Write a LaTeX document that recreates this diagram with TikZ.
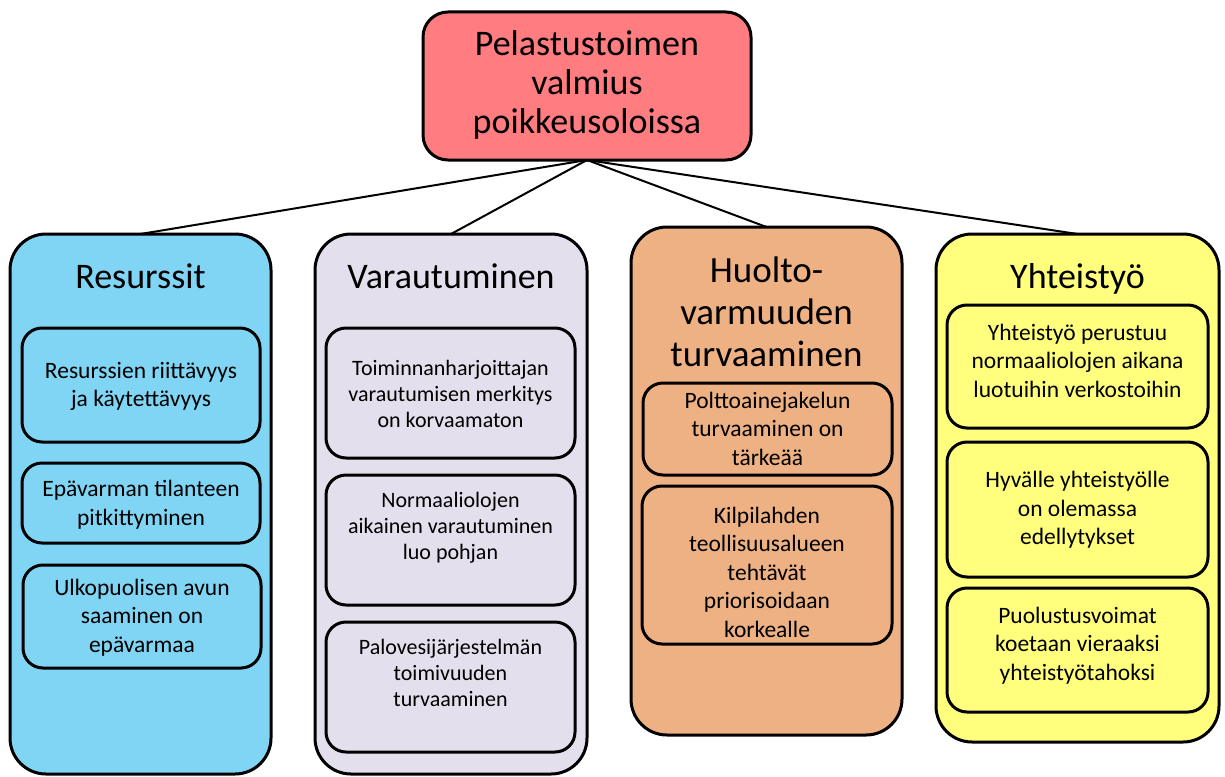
\documentclass[tikz,border=0pt]{standalone}
\usepackage{fontspec}
\setmainfont{Carlito}
\definecolor{cTop}{RGB}{255,124,128}
\definecolor{cRes}{RGB}{128,213,245}
\definecolor{cVar}{RGB}{228,223,236}
\definecolor{cHuo}{RGB}{237,177,131}
\definecolor{cYht}{RGB}{255,255,125}
\begin{document}
\begin{tikzpicture}[x=1pt,y=-1pt,
 topbox/.style={draw=black,line width=3pt,rounded corners=25pt,inner sep=0pt,outer sep=0pt},
 outerbox/.style={draw=black,line width=3pt,rounded corners=36pt,inner sep=0pt,outer sep=0pt},
 innerbox/.style={draw=black,line width=3pt,rounded corners=20pt,inner sep=0pt,outer sep=0pt},
 conn/.style={draw=black,line width=2pt},
 txt/.style={align=center,inner sep=0pt,outer sep=0pt,text=black},
 toptxt/.style={txt,font=\fontsize{36}{39}\selectfont},
 titletxt/.style={txt,font=\fontsize{36}{44}\selectfont},
 huotxt/.style={txt,font=\fontsize{37}{42}\selectfont},
 itemtxt/.style={txt,font=\fontsize{23.5}{28.5}\selectfont},
 vartxt/.style={txt,font=\fontsize{22}{26}\selectfont}
]
\fill[white] (0,0) rectangle (1225,776);
\useasboundingbox (0,0) rectangle (1225,776);

% top
\node[topbox,fill=cTop,minimum width=328pt,minimum height=148pt] (top) at (587,86) {};
\node[toptxt] (toplabel) at (587,86.2) {\strut Pelastustoimen\\\strut valmius\\\strut poikkeusoloissa};

% outer boxes
\node[outerbox,fill=cRes,minimum width=261pt,minimum height=540pt] (res) at (140.5,504) {};
\node[outerbox,fill=cVar,minimum width=272pt,minimum height=540pt] (var) at (451,504) {};
\node[outerbox,fill=cHuo,minimum width=271pt,minimum height=508pt] (huo) at (766.5,481) {};
\node[outerbox,fill=cYht,minimum width=283pt,minimum height=508pt] (yht) at (1077.5,488) {};

% titles
\node[titletxt] (restitle) at (140.5,279.2) {\strut Resurssit};
\node[titletxt] (vartitle) at (451,279.2) {\strut Varautuminen};
\node[huotxt] (huotitle) at (766.5,315.6) {\strut Huolto-\\\strut varmuuden\\\strut turvaaminen};
\node[titletxt] (yhttitle) at (1077.5,279.2) {\strut Yhteistyö};

% inner boxes
\node[innerbox,fill=cRes,minimum width=238pt,minimum height=114pt] (r1) at (141,385) {};
\node[innerbox,fill=cRes,minimum width=238pt,minimum height=80pt] (r2) at (141,503) {};
\node[innerbox,fill=cRes,minimum width=238pt,minimum height=103pt] (r3) at (142,616.5) {};

\node[innerbox,fill=cVar,minimum width=249pt,minimum height=130pt] (v1) at (450.5,393) {};
\node[innerbox,fill=cVar,minimum width=249pt,minimum height=130pt] (v2) at (450.5,540) {};
\node[innerbox,fill=cVar,minimum width=249pt,minimum height=130pt] (v3) at (450.5,687) {};

\node[innerbox,fill=cHuo,minimum width=249pt,minimum height=92pt] (h1) at (767.5,429) {};
\node[innerbox,fill=cHuo,minimum width=250pt,minimum height=158pt] (h2) at (767,565) {};

\node[innerbox,fill=cYht,minimum width=261pt,minimum height=123pt] (y1) at (1077.5,366.5) {};
\node[innerbox,fill=cYht,minimum width=261pt,minimum height=135pt] (y2) at (1077.5,509.5) {};
\node[innerbox,fill=cYht,minimum width=261pt,minimum height=124pt] (y3) at (1077.5,650) {};

% inner texts
\node[itemtxt] (r1t) at (141,386.8) {\strut Resurssien riittävyys\\\strut ja käytettävyys};
\node[itemtxt] (r2t) at (141,505.3) {\strut Epävarman tilanteen\\\strut pitkittyminen};
\node[itemtxt] (r3t) at (142,617.8) {\strut Ulkopuolisen avun\\\strut saaminen on\\\strut epävarmaa};

\node[vartxt] (v1t) at (450.5,395.8) {\strut Toiminnanharjoittajan\\\strut varautumisen merkitys\\\strut on korvaamaton};
\node[vartxt] (v2t) at (450.5,528.3) {\strut Normaaliolojen\\\strut aikainen varautuminen\\\strut luo pohjan};
\node[vartxt] (v3t) at (450.5,675.3) {\strut Palovesijärjestelmän\\\strut toimivuuden\\\strut turvaaminen};

\node[itemtxt] (h1t) at (767.5,430.8) {\strut Polttoainejakelun\\\strut turvaaminen on\\\strut tärkeää};
\node[itemtxt] (h2t) at (767,574.3) {\strut Kilpilahden\\\strut teollisuusalueen\\\strut tehtävät\\\strut priorisoidaan\\\strut korkealle};

\node[itemtxt] (y1t) at (1077.5,362.8) {\strut Yhteistyö perustuu\\\strut normaaliolojen aikana\\\strut luotuihin verkostoihin};
\node[itemtxt] (y2t) at (1077.5,510.3) {\strut Hyvälle yhteistyölle\\\strut on olemassa\\\strut edellytykset};
\node[itemtxt] (y3t) at (1077.5,645.8) {\strut Puolustusvoimat\\\strut koetaan vieraaksi\\\strut yhteistyötahoksi};

% connectors
\draw[conn] (top.south) -- (res.north);
\draw[conn] (top.south) -- (var.north);
\draw[conn] (top.south) -- (huo.north);
\draw[conn] (top.south) -- (yht.north);
\end{tikzpicture}
\end{document}
